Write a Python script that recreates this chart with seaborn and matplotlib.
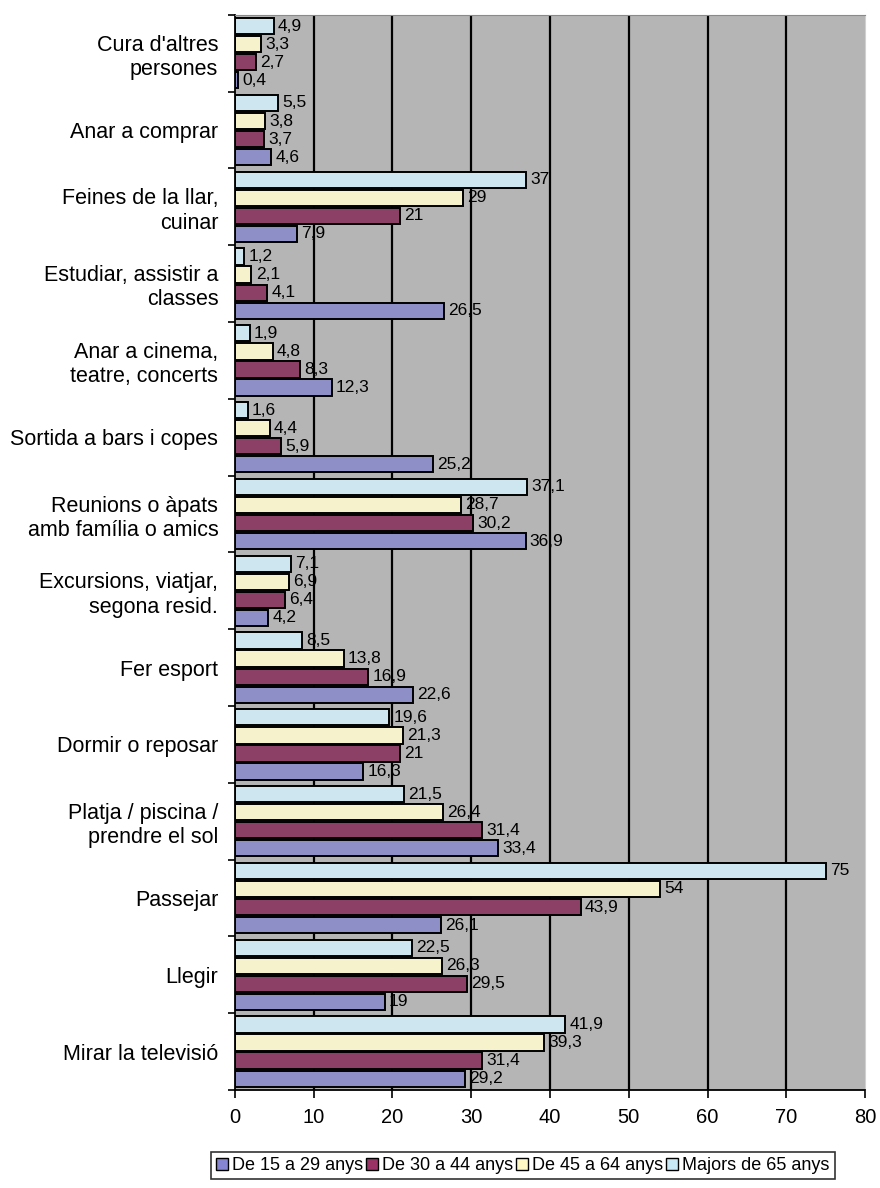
import pandas as pd
import matplotlib.pyplot as plt
import seaborn as sns
from matplotlib.patches import Patch

# ----------------------------------------------------------
# DADES
# ----------------------------------------------------------

categories = [
    "Cura d'altres\npersones",
    "Anar a comprar",
    "Feines de la llar,\ncuinar",
    "Estudiar, assistir a\nclasses",
    "Anar a cinema,\nteatre, concerts",
    "Sortida a bars i copes",
    "Reunions o àpats\namb família o amics",
    "Excursions, viatjar,\nsegona resid.",
    "Fer esport",
    "Dormir o reposar",
    "Platja / piscina /\nprendre el sol",
    "Passejar",
    "Llegir",
    "Mirar la televisió",
]

grups = ["De 15 a 29 anys", "De 30 a 44 anys", "De 45 a 64 anys", "Majors de 65 anys"]

v_15_29 = [0.4, 4.6, 7.9, 26.5, 12.3, 25.2, 36.9, 4.2, 22.6, 16.3, 33.4, 26.1, 19, 29.2]
v_30_44 = [2.7, 3.7, 21, 4.1, 8.3, 5.9, 30.2, 6.4, 16.9, 21, 31.4, 43.9, 29.5, 31.4]
v_45_64 = [3.3, 3.8, 29, 2.1, 4.8, 4.4, 28.7, 6.9, 13.8, 21.3, 26.4, 54, 26.3, 39.3]
v_65 = [4.9, 5.5, 37, 1.2, 1.9, 1.6, 37.1, 7.1, 8.5, 19.6, 21.5, 75, 22.5, 41.9]

colors = {
    "De 15 a 29 anys": "#8585d1",
    "De 30 a 44 anys": "#993366",
    "De 45 a 64 anys": "#fdf8c4",
    "Majors de 65 anys": "#c8e8f5",
}

files = []
for g, vals in zip(grups, [v_15_29, v_30_44, v_45_64, v_65]):
    for c, v in zip(categories, vals):
        files.append({"cat": c, "grup": g, "valor": v})
df = pd.DataFrame(files)

# ----------------------------------------------------------
# GRÀFIC
# ----------------------------------------------------------

sns.set_style("white")
plt.rcParams["font.family"] = ["Liberation Sans", "DejaVu Sans"]
plt.rcParams["text.color"] = "black"
plt.rcParams["xtick.color"] = "black"
plt.rcParams["ytick.color"] = "black"

fig = plt.figure(figsize=(8.8, 11.88), dpi=100)
ax = fig.add_axes([0.267, 0.0825, 0.716, 0.905])
ax.set_facecolor("#b5b5b5")

ordre_hue = grups[::-1]  # el grup de més edat a dalt

sns.barplot(
    data=df, y="cat", x="valor", hue="grup",
    order=categories, hue_order=ordre_hue,
    palette=colors, orient="h",
    width=0.94, gap=0.1,
    edgecolor="black", linewidth=1.4,
    legend=False, ax=ax, errorbar=None,
)

for cont in ax.containers:
    etiquetes = [f"{b.get_width():g}".replace(".", ",") for b in cont]
    ax.bar_label(cont, labels=etiquetes, padding=3, fontsize=12.5, color="black")

ax.set_xlim(0, 80)
ax.set_ylim(len(categories) - 0.5, -0.5)
ax.set_xticks(range(0, 81, 10))
ax.set_xlabel("")
ax.set_ylabel("")

for x in range(10, 80, 10):
    ax.axvline(x, color="black", lw=1.6, zorder=0)

ax.set_yticks([i - 0.5 for i in range(len(categories) + 1)], minor=True)
ax.tick_params(axis="y", which="major", length=0, labelsize=15.5, pad=12)
ax.tick_params(axis="y", which="minor", length=5, width=1.2, direction="out", left=True)
ax.tick_params(axis="x", length=6, width=1.2, direction="out", bottom=True, labelsize=14.5, pad=7)

for s in ["left", "bottom"]:
    ax.spines[s].set_color("black")
    ax.spines[s].set_linewidth(1.3)
ax.spines["top"].set_color("#8a8a8a")
ax.spines["right"].set_color("#d0d0d0")

# ----------------------------------------------------------
# LLEGENDA
# ----------------------------------------------------------

handles = [Patch(facecolor=colors[g], edgecolor="black", label=g) for g in grups]
leg = fig.legend(
    handles=handles, loc="center", bbox_to_anchor=(0.594, 0.019),
    ncol=4, fontsize=13, frameon=True, fancybox=False,
    handlelength=0.65, handleheight=0.65, handletextpad=0.2,
    columnspacing=0.2, borderpad=0.3, borderaxespad=0.2,
)
leg.get_frame().set_edgecolor("black")
leg.get_frame().set_linewidth(1.2)

plt.savefig("out.png", dpi=100)
plt.close()
